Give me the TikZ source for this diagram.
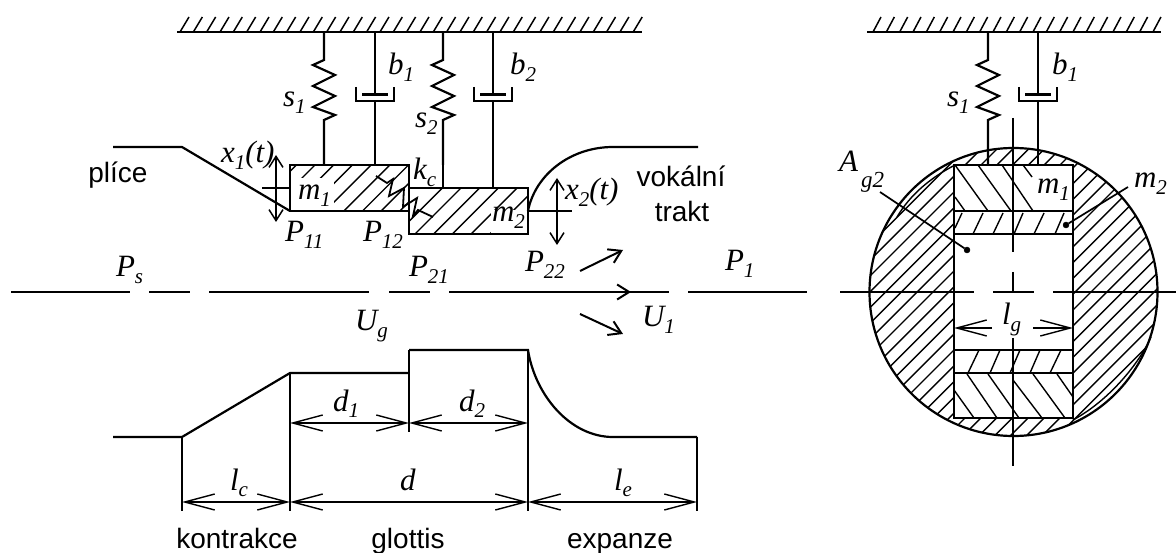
\documentclass[tikz,border=0pt]{standalone}
\usepackage{fontspec}
\usetikzlibrary{arrows.meta}
\setmainfont{Liberation Sans}
\newfontfamily\mifont{Liberation Serif}[ItalicFont={Liberation Serif Italic}]
\newcommand{\sbb}[1]{\raisebox{-6.5pt}{\fontsize{21}{21}\selectfont #1}}
\newcommand{\mi}[1]{{\mifont\itshape\fontsize{31}{31}\selectfont #1}}
\tikzset{
  thick line/.style={line width=2.2pt,line join=miter},
  thin line/.style={line width=1.5pt},
  hatch/.style={line width=1.4pt},
  dimtip/.style={{Straight Barb[length=30pt,width=16pt,line width=1.4pt]}-{Straight Barb[length=30pt,width=16pt,line width=1.4pt]}, line width=1.3pt},
  dimtipL/.style={{Straight Barb[length=30pt,width=16pt,line width=1.4pt]}-, line width=1.3pt},
  dimtipR/.style={-{Straight Barb[length=30pt,width=16pt,line width=1.4pt]}, line width=1.3pt},
  motion/.style={{Straight Barb[length=11pt,width=14pt,line width=1.5pt]}-{Straight Barb[length=11pt,width=14pt,line width=1.5pt]}, line width=1.5pt},
  flow/.style={-{Straight Barb[length=12pt,width=15pt,line width=2pt]}, line width=2pt},
  lab/.style={anchor=base west,inner sep=0pt,outer sep=0pt},
  sans/.style={anchor=base,inner sep=0pt,outer sep=0pt,font=\fontsize{28}{28}\selectfont},
  dotmark/.style={circle,fill=black,draw=black,inner sep=0pt,minimum size=6pt},
}
\newcommand{\wallhatch}[3]{%
  \foreach \k in {0,...,#3}{\draw[thin line] ({#1+13.33*\k},32) -- ({#1+13.33*\k+9},17);}%
}
\newcommand{\springv}[1]{%
  \draw[thick line] (#1,32) -- (#1,60) -- ({#1-11},65) -- ({#1+11},75) -- ({#1-11},86) -- ({#1+11},96) -- ({#1-11},107) -- ({#1+11},115) -- (#1,120) -- (#1,165);%
}
\newcommand{\damper}[1]{%
  \draw[thick line] (#1,32) -- (#1,94);
  \draw[thick line] ({#1-13},94.5) -- ({#1+13},94.5);
  \draw[thick line] ({#1-19},87) -- ({#1-19},101) -- ({#1+19},101) -- ({#1+19},87);
  \draw[thick line] (#1,101) -- (#1,165);%
}
\begin{document}
\begin{tikzpicture}[x=1pt,y=-1pt]
\useasboundingbox (0,0) rectangle (1176,553);
\fill[white] (0,0) rectangle (1176,553);

%%% LEFT FIGURE
\draw[thick line] (177,32) -- (642,32);
\wallhatch{180}{642}{34}
\springv{324}
\damper{375}
\springv{443}
\draw[thick line] (443,165) -- (443,188);
\damper{493}
\draw[thick line] (493,165) -- (493,188);

% mass 1 hatching
\begin{scope}
  \clip (290,165) rectangle (409,211);
  \foreach \k in {-1,...,7}{\draw[hatch] ({480+18.7*\k-150},150) -- ({480+18.7*\k-230},230);}
  \fill[white] (291,178) rectangle (333.5,210);
\end{scope}
% mass 2 hatching
\begin{scope}
  \clip (409,188) rectangle (528,234);
  \foreach \k in {-1,...,5}{\draw[hatch] ({649+18.7*\k-170},170) -- ({649+18.7*\k-250},250);}
  \fill[white] (491,210) rectangle (527,233);
\end{scope}
\draw[thick line] (290,165) rectangle (409,211);
\draw[thick line] (409,188) rectangle (528,234);
% coupling spring
\draw[line width=1.8pt] (376,176) -- (387,183) -- (393,179) -- (389,196) -- (404,188) -- (403,207) -- (417,198) -- (413,216) -- (418,210) -- (433,217);

% channel outline
\draw[thick line] (113,147) -- (182,147) -- (290,211);
\draw[thick line] (528,211) .. controls (535,175) and (570,147) .. (613,147) -- (698,147);

% displacements
\draw[motion] (276,155) -- (276,222);
\draw[thin line] (262,188) -- (290,188);
\draw[motion] (557,178) -- (557,245);
\draw[thin line] (528,211) -- (572,211);

% centre line
\draw[thin line] (11,292) -- (130,292) (149,292) -- (190,292) (209,292) -- (369,292) (389,292) -- (430,292) (449,292) -- (669,292) (688,292) -- (807,292);
\draw[flow] (585,292) -- (631,292);
\draw[flow] (580,271) -- (623,250);
\draw[flow] (580,314) -- (623,334);

% lower profile
\draw[thick line] (113,437) -- (182,437) -- (290,373) -- (409,373);
\draw[thick line] (409,350) -- (528,350) .. controls (535,395) and (570,437) .. (613,437) -- (697,437);
\draw[thick line] (182,437) -- (182,511);
\draw[thick line] (290,373) -- (290,511);
\draw[thick line] (409,350) -- (409,432);
\draw[thick line] (528,350) -- (528,511);
\draw[line width=1.7pt] (697,437) -- (697,511);
\draw[dimtip] (290,423) -- (409,423);
\draw[dimtip] (409,423) -- (528,423);
\draw[dimtip] (182,502) -- (290,502);
\draw[dimtip] (290,502) -- (528,502);
\draw[dimtip] (528,502) -- (697,502);

% left labels
\node[sans] (plice) at (118,183) {plíce};
\node[sans] (vokalni) at (681,187) {vokální};
\node[sans] (trakt) at (682,222) {trakt};
\node[sans] (kontrakce) at (237,548) {kontrakce};
\node[sans] (glottis) at (408,548) {glottis};
\node[sans] (expanze) at (620,548) {expanze};

\node[lab] (ls1) at (283,107) {\mi{s\sbb{1}}};
\node[lab] (lb1) at (388,75) {\mi{b\sbb{1}}};
\node[lab] (ls2) at (415,128) {\mi{s\sbb{2}}};
\node[lab] (lb2) at (510,75) {\mi{b\sbb{2}}};
\node[lab] (lk) at (413,180) {\mi{k\sbb{c}}};
\node[lab] (lm1) at (298,200) {\mi{m\sbb{1}}};
\node[lab] (lm2) at (492,222) {\mi{m\sbb{2}}};
\node[lab] (lx1) at (221,163) {\mi{x\sbb{1}(t)}};
\node[lab] (lx2) at (565,200) {\mi{x\sbb{2}(t)}};
\node[lab] (lp11) at (285,242) {\mi{P\sbb{11}}};
\node[lab] (lp12) at (363,242) {\mi{P\sbb{12}}};
\node[lab] (lp21) at (409,277) {\mi{P\sbb{21}}};
\node[lab] (lp22) at (525,272) {\mi{P\sbb{22}}};
\node[lab] (lp1) at (725,271) {\mi{P\sbb{1}}};
\node[lab] (lps) at (116,277) {\mi{P\sbb{s}}};
\node[lab] (lug) at (355,331) {\mi{U\sbb{g}}};
\node[lab] (lu1) at (642,327) {\mi{U\sbb{1}}};
\node[lab] (ld1) at (333,411) {\mi{d\sbb{1}}};
\node[lab] (ld2) at (459,411) {\mi{d\sbb{2}}};
\node[lab] (ld) at (400,490) {\mi{d}};
\node[lab] (llc) at (230,490) {\mi{l\sbb{c}}};
\node[lab] (lle) at (614,490) {\mi{l\sbb{e}}};

%%% RIGHT FIGURE
\draw[thick line] (867,32) -- (1161,32);
\foreach \k in {0,...,21}{\draw[thin line] ({873+13.33*\k},32) -- ({873+13.33*\k+8},17);}
\begin{scope}
  \clip (1013.5,292) circle (144);
  \foreach \k in {-8,...,18}{\draw[hatch] ({1225+15.8*\k-100},100) -- ({1225+15.8*\k-480},480);}
\end{scope}
\fill[white] (954,165) rectangle (1073,418);
% inner hatching
\draw[hatch] (955,165) -- (988,211) (978,165) -- (1011,211) (1002,165) -- (1033,211) (1023,165) -- (1032,177) (955,197) -- (965,211);
\draw[hatch] (962,213) -- (955,228) (983,213) -- (973,234) (1003,213) -- (993,234) (1023,213) -- (1014,234) (1044,213) -- (1034,234) (1064,213) -- (1055,234);
\draw[hatch] (979,350) -- (968,373) (1000,350) -- (990,373) (1020,350) -- (1010,373) (1040,350) -- (1030,373) (1061,350) -- (1050,373);
\draw[hatch] (954,390) -- (974,418) (967,374) -- (997,418) (988,374) -- (1019,418) (1013,380) -- (1042,418) (1033,374) -- (1065,418) (1057,374) -- (1073,397);
\draw[thick line] (1013.5,292) circle (144);
\draw[hatch] (955,165) .. controls (930,178) and (910,195) .. (897,217);
\draw[hatch] (1151,337) .. controls (1140,362) and (1110,400) .. (1073,420);
\draw[thick line] (954,165) rectangle (1073,418);
\draw[thick line] (954,211) -- (1073,211) (954,234) -- (1073,234) (954,350) -- (1073,350) (954,373) -- (1073,373);
\springv{988}
\damper{1038}

% centre lines
\draw[thin line] (840,292) -- (974,292) (993,292) -- (1034,292) (1053,292) -- (1176,292);
\draw[thin line] (1013,118) -- (1013,252) (1013,272) -- (1013,293) (1013,338) -- (1013,466);

% l_g dimension
\draw[dimtipL] (954,328) -- (992,328);
\draw[dimtipR] (1033,328) -- (1073,328);

% leaders
\node[dotmark] (dotA) at (967,250) {};
\node[dotmark] (dotM) at (1066,225) {};
\coordinate (endA) at (880,192);
\coordinate (endM) at (1128,187);
\draw[line width=1.7pt] (endA) -- (dotA);
\draw[line width=1.7pt] (endM) -- (dotM);

% right labels
\node[lab] (rs1) at (947,107) {\mi{s\sbb{1}}};
\node[lab] (rb1) at (1052,75) {\mi{b\sbb{1}}};
\node[lab] (rm1) at (1037,194) {\mi{m\sbb{1}}};
\node[lab] (rm2) at (1134,188) {\mi{m\sbb{2}}};
\node[lab] (rA) at (839,172) {\mi{A}};
\node[lab] (rg2) at (861,188) {{\mifont\itshape\fontsize{23}{23}\selectfont g2}};
\node[lab,fill=white,inner sep=1pt] (rlg) at (1001,325) {\mi{l\sbb{g}}};
\end{tikzpicture}
\end{document}
